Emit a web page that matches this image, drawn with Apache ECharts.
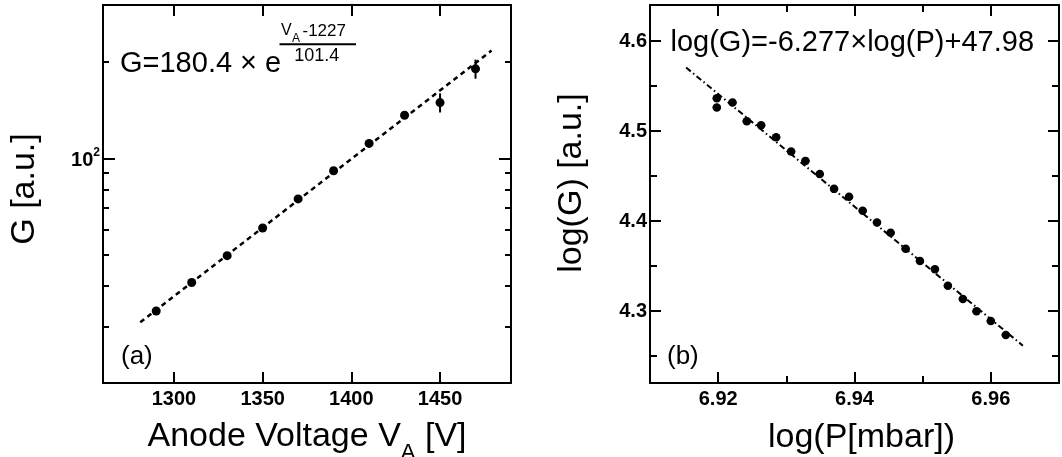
<!DOCTYPE html>
<html>
<head>
<meta charset="utf-8">
<script src="https://cdn.jsdelivr.net/npm/echarts@6/dist/echarts.min.js"></script>
<style>
html,body{margin:0;padding:0;background:#fff;}
#chart{width:1062px;height:457px;}
</style>
</head>
<body>
<div id="chart"></div>
<script>
// ---------- Panel (a): gain vs anode voltage ----------
const voltage = [1290, 1310, 1330, 1350, 1370, 1390, 1410, 1430, 1450, 1470];
const gain    = [33.5, 41.1, 49.8, 60.7, 74.8, 91.5, 111.3, 136.2, 149.1, 189.9];
const gainErr = [0.5, 0.6, 0.7, 0.9, 1.1, 1.4, 1.7, 2.2, 10.2, 13.0];
const fitVoltage = [1281, 1479];
const fitGain    = [30.9, 216.4];
const leftXTicks     = [1300, 1350, 1400, 1450];
const leftYMajor     = [100];
const leftYMinor     = [30, 40, 50, 60, 70, 80, 90, 200];

// ---------- Panel (b): log(G) vs log(P) ----------
const logP = [6.9198, 6.9198, 6.9221, 6.9242, 6.9263, 6.9285, 6.9307, 6.9328, 6.9349, 6.9370, 6.9392,
              6.9412, 6.9433, 6.9453, 6.9475, 6.9496, 6.9518, 6.9537, 6.9559, 6.9579, 6.9600, 6.9622];
const logG = [4.5364, 4.5261, 4.5316, 4.5109, 4.5064, 4.4931, 4.4772, 4.4668, 4.4521, 4.4357, 4.4269,
              4.4113, 4.3984, 4.3869, 4.3691, 4.3555, 4.3463, 4.3281, 4.3134, 4.2997, 4.2889, 4.2734];
const logPErr = [0.0006, 0.0006, 0.0006, 0.0006, 0.0006, 0.0006, 0.0006, 0.0006, 0.0006, 0.0006, 0.0006,
                 0.0006, 0.0006, 0.0006, 0.0006, 0.0006, 0.0006, 0.0006, 0.0006, 0.0006, 0.0006, 0.0006];
const fitLogP = [6.9153, 6.9647];
const fitLogG = [4.5705, 4.2615];
const rightXMajor = [6.92, 6.94, 6.96];
const rightXMinor = [6.93, 6.95];
const rightYMajor = [4.3, 4.4, 4.5, 4.6];
const rightYMinor = [4.25, 4.35, 4.45, 4.55];

const FONT = "'Liberation Sans', Arial, Helvetica, sans-serif";
const BLACK = '#000';

function zip(a, b, c) { return a.map((v, i) => c ? [v, b[i], c[i]] : [v, b[i]]); }

const tickLabel = { color: BLACK, fontFamily: FONT, fontWeight: 'bold', fontSize: 20 };

function mkAxis(base, o) {
  return Object.assign({
    splitLine: { show: false },
    axisLine: { show: false, onZero: false, lineStyle: { color: BLACK, width: 2 } },
    axisTick: { show: true, inside: true, lineStyle: { color: BLACK, width: 2 } },
    axisLabel: { show: false },
    nameTextStyle: { color: BLACK, fontFamily: FONT, fontSize: 34 }
  }, base, o);
}

const lx = { gridIndex: 0, type: 'value', min: 1260, max: 1490 };
const ly = { gridIndex: 0, type: 'log', logBase: 10, min: 20, max: 300 };
const rx = { gridIndex: 1, type: 'value', min: 6.91, max: 6.97 };
const ry = { gridIndex: 1, type: 'value', min: 4.22, max: 4.64 };

const xAxis = [
  // 0: left bottom
  mkAxis(lx, {
    position: 'bottom',
    axisLine: { show: true, onZero: false, lineStyle: { color: BLACK, width: 2 } },
    axisTick: { show: true, inside: true, length: 11, customValues: leftXTicks, lineStyle: { color: BLACK, width: 2 } },
    axisLabel: Object.assign({ show: true, margin: 6, customValues: leftXTicks, formatter: v => String(v) }, tickLabel),
    name: '{t|Anode Voltage V}{s|A}{t| [V]}',
    nameLocation: 'middle', nameGap: 27,
    nameTextStyle: { color: BLACK, fontFamily: FONT, rich: {
      t: { fontSize: 34, fontFamily: FONT, color: BLACK },
      s: { fontSize: 22, fontFamily: FONT, color: BLACK, padding: [32, 0, 0, 0] }
    } }
  }),
  // 1: left top
  mkAxis(lx, {
    position: 'top',
    axisLine: { show: true, onZero: false, lineStyle: { color: BLACK, width: 2 } },
    axisTick: { show: true, inside: true, length: 11, customValues: leftXTicks, lineStyle: { color: BLACK, width: 2 } }
  }),
  // 2: right bottom major
  mkAxis(rx, {
    position: 'bottom',
    axisLine: { show: true, onZero: false, lineStyle: { color: BLACK, width: 2 } },
    axisTick: { show: true, inside: true, length: 11, customValues: rightXMajor, lineStyle: { color: BLACK, width: 2 } },
    axisLabel: Object.assign({ show: true, margin: 6, customValues: rightXMajor, formatter: v => v.toFixed(2) }, tickLabel),
    name: 'log(P[mbar])', nameLocation: 'middle', nameGap: 38,
    nameTextStyle: { color: BLACK, fontFamily: FONT, fontSize: 34, padding: [0, 0, 0, 14] }
  }),
  // 3: right bottom minor
  mkAxis(rx, {
    position: 'bottom',
    axisTick: { show: true, inside: true, length: 7, customValues: rightXMinor, lineStyle: { color: BLACK, width: 2 } }
  }),
  // 4: right top major
  mkAxis(rx, {
    position: 'top',
    axisLine: { show: true, onZero: false, lineStyle: { color: BLACK, width: 2 } },
    axisTick: { show: true, inside: true, length: 11, customValues: rightXMajor, lineStyle: { color: BLACK, width: 2 } }
  }),
  // 5: right top minor
  mkAxis(rx, {
    position: 'top',
    axisTick: { show: true, inside: true, length: 7, customValues: rightXMinor, lineStyle: { color: BLACK, width: 2 } }
  })
];

const yAxis = [
  // 0: left plot, left major
  mkAxis(ly, {
    position: 'left',
    axisLine: { show: true, onZero: false, lineStyle: { color: BLACK, width: 2 } },
    axisTick: { show: true, inside: true, length: 12, customValues: leftYMajor, lineStyle: { color: BLACK, width: 2 } },
    axisLabel: {
      show: true, margin: 3, customValues: leftYMajor,
      formatter: v => '{n|10}{s|' + Math.round(Math.log10(v)) + '}',
      rich: {
        n: { color: BLACK, fontFamily: FONT, fontWeight: 'bold', fontSize: 20, padding: [4, 0, 0, 0] },
        s: { color: BLACK, fontFamily: FONT, fontWeight: 'bold', fontSize: 12, verticalAlign: 'top' }
      }
    },
    name: 'G [a.u.]', nameLocation: 'middle', nameRotate: 90, nameGap: 61,
    nameTextStyle: { color: BLACK, fontFamily: FONT, fontSize: 34, padding: [0, 0, 0, 10] }
  }),
  // 1: left plot, left minor
  mkAxis(ly, {
    position: 'left',
    axisTick: { show: true, inside: true, length: 6, customValues: leftYMinor, lineStyle: { color: BLACK, width: 2 } }
  }),
  // 2: left plot, right major
  mkAxis(ly, {
    position: 'right',
    axisLine: { show: true, onZero: false, lineStyle: { color: BLACK, width: 2 } },
    axisTick: { show: true, inside: true, length: 12, customValues: leftYMajor, lineStyle: { color: BLACK, width: 2 } }
  }),
  // 3: left plot, right minor
  mkAxis(ly, {
    position: 'right',
    axisTick: { show: true, inside: true, length: 6, customValues: leftYMinor, lineStyle: { color: BLACK, width: 2 } }
  }),
  // 4: right plot, left major
  mkAxis(ry, {
    position: 'left',
    axisLine: { show: true, onZero: false, lineStyle: { color: BLACK, width: 2 } },
    axisTick: { show: true, inside: true, length: 11, customValues: rightYMajor, lineStyle: { color: BLACK, width: 2 } },
    axisLabel: Object.assign({ show: true, margin: 3, customValues: rightYMajor, formatter: v => v.toFixed(1) }, tickLabel),
    name: 'log(G) [a.u.]', nameLocation: 'middle', nameRotate: 90, nameGap: 61,
    nameTextStyle: { color: BLACK, fontFamily: FONT, fontSize: 34, padding: [0, 0, 0, 22] }
  }),
  // 5: right plot, left minor
  mkAxis(ry, {
    position: 'left',
    axisTick: { show: true, inside: true, length: 7, customValues: rightYMinor, lineStyle: { color: BLACK, width: 2 } }
  }),
  // 6: right plot, right major
  mkAxis(ry, {
    position: 'right',
    axisLine: { show: true, onZero: false, lineStyle: { color: BLACK, width: 2 } },
    axisTick: { show: true, inside: true, length: 11, customValues: rightYMajor, lineStyle: { color: BLACK, width: 2 } }
  }),
  // 7: right plot, right minor
  mkAxis(ry, {
    position: 'right',
    axisTick: { show: true, inside: true, length: 7, customValues: rightYMinor, lineStyle: { color: BLACK, width: 2 } }
  })
];

function vErrBar(params, api) {
  const x = api.value(0), y = api.value(1), e = api.value(2);
  const p1 = api.coord([x, y - e]), p2 = api.coord([x, y + e]);
  return { type: 'line', shape: { x1: p1[0], y1: p1[1], x2: p2[0], y2: p2[1] },
           style: { stroke: BLACK, lineWidth: 2 } };
}
function hErrBar(params, api) {
  const x = api.value(0), y = api.value(1), e = api.value(2);
  const p1 = api.coord([x - e, y]), p2 = api.coord([x + e, y]);
  return { type: 'line', shape: { x1: p1[0], y1: p1[1], x2: p2[0], y2: p2[1] },
           style: { stroke: BLACK, lineWidth: 2 } };
}

const option = {
  backgroundColor: '#fff',
  animation: false,
  grid: [
    { left: 103, top: 5, width: 408, height: 378, outerBoundsMode: 'none', containLabel: false },
    { left: 650, top: 5, width: 409, height: 378, outerBoundsMode: 'none', containLabel: false }
  ],
  xAxis: xAxis,
  yAxis: yAxis,
  series: [
    { type: 'line', xAxisIndex: 0, yAxisIndex: 0, data: zip(fitVoltage, fitGain), symbol: 'none',
      lineStyle: { color: BLACK, width: 2.5, type: [5, 4] }, z: 1 },
    { type: 'custom', xAxisIndex: 0, yAxisIndex: 0, data: zip(voltage, gain, gainErr),
      renderItem: vErrBar, encode: { x: 0, y: 1 }, z: 2 },
    { type: 'scatter', xAxisIndex: 0, yAxisIndex: 0, data: zip(voltage, gain), symbol: 'circle', symbolSize: 9,
      itemStyle: { color: BLACK, opacity: 1 }, z: 3 },
    { type: 'line', xAxisIndex: 2, yAxisIndex: 4, data: zip(fitLogP, fitLogG), symbol: 'none',
      lineStyle: { color: BLACK, width: 2, type: [6, 3, 1.5, 3] }, z: 1 },
    { type: 'custom', xAxisIndex: 2, yAxisIndex: 4, data: zip(logP, logG, logPErr),
      renderItem: hErrBar, encode: { x: 0, y: 1 }, z: 2 },
    { type: 'scatter', xAxisIndex: 2, yAxisIndex: 4, data: zip(logP, logG), symbol: 'circle', symbolSize: 8.5,
      itemStyle: { color: BLACK, opacity: 1 }, z: 3 }
  ],
  graphic: [
    { type: 'text', x: 120, y: 64, style: { text: 'G=180.4 × e', font: '29px ' + FONT, fill: BLACK, verticalAlign: 'middle', align: 'left' } },
    { type: 'text', x: 281, y: 31, style: { text: 'V', font: '16px ' + FONT, fill: BLACK, verticalAlign: 'middle', align: 'left' } },
    { type: 'text', x: 292, y: 38.5, style: { text: 'A', font: '12px ' + FONT, fill: BLACK, verticalAlign: 'middle', align: 'left' } },
    { type: 'text', x: 302.5, y: 31, style: { text: '-1227', font: '17px ' + FONT, fill: BLACK, verticalAlign: 'middle', align: 'left' } },
    { type: 'line', shape: { x1: 279.5, y1: 44.3, x2: 356, y2: 44.3 }, style: { stroke: BLACK, lineWidth: 2 } },
    { type: 'text', x: 294.3, y: 56, style: { text: '101.4', font: '18px ' + FONT, fill: BLACK, verticalAlign: 'middle', align: 'left' } },
    { type: 'text', x: 121, y: 357, style: { text: '(a)', font: '26px ' + FONT, fill: BLACK, verticalAlign: 'middle', align: 'left' } },
    { type: 'text', x: 670.5, y: 42.5, style: { text: 'log(G)=-6.277×log(P)+47.98', font: '29px ' + FONT, fill: BLACK, verticalAlign: 'middle', align: 'left' } },
    { type: 'text', x: 667, y: 357, style: { text: '(b)', font: '26px ' + FONT, fill: BLACK, verticalAlign: 'middle', align: 'left' } }
  ]
};

const chart = echarts.init(document.getElementById('chart'), null, { renderer: 'canvas' });
chart.setOption(option);
</script>
</body>
</html>
